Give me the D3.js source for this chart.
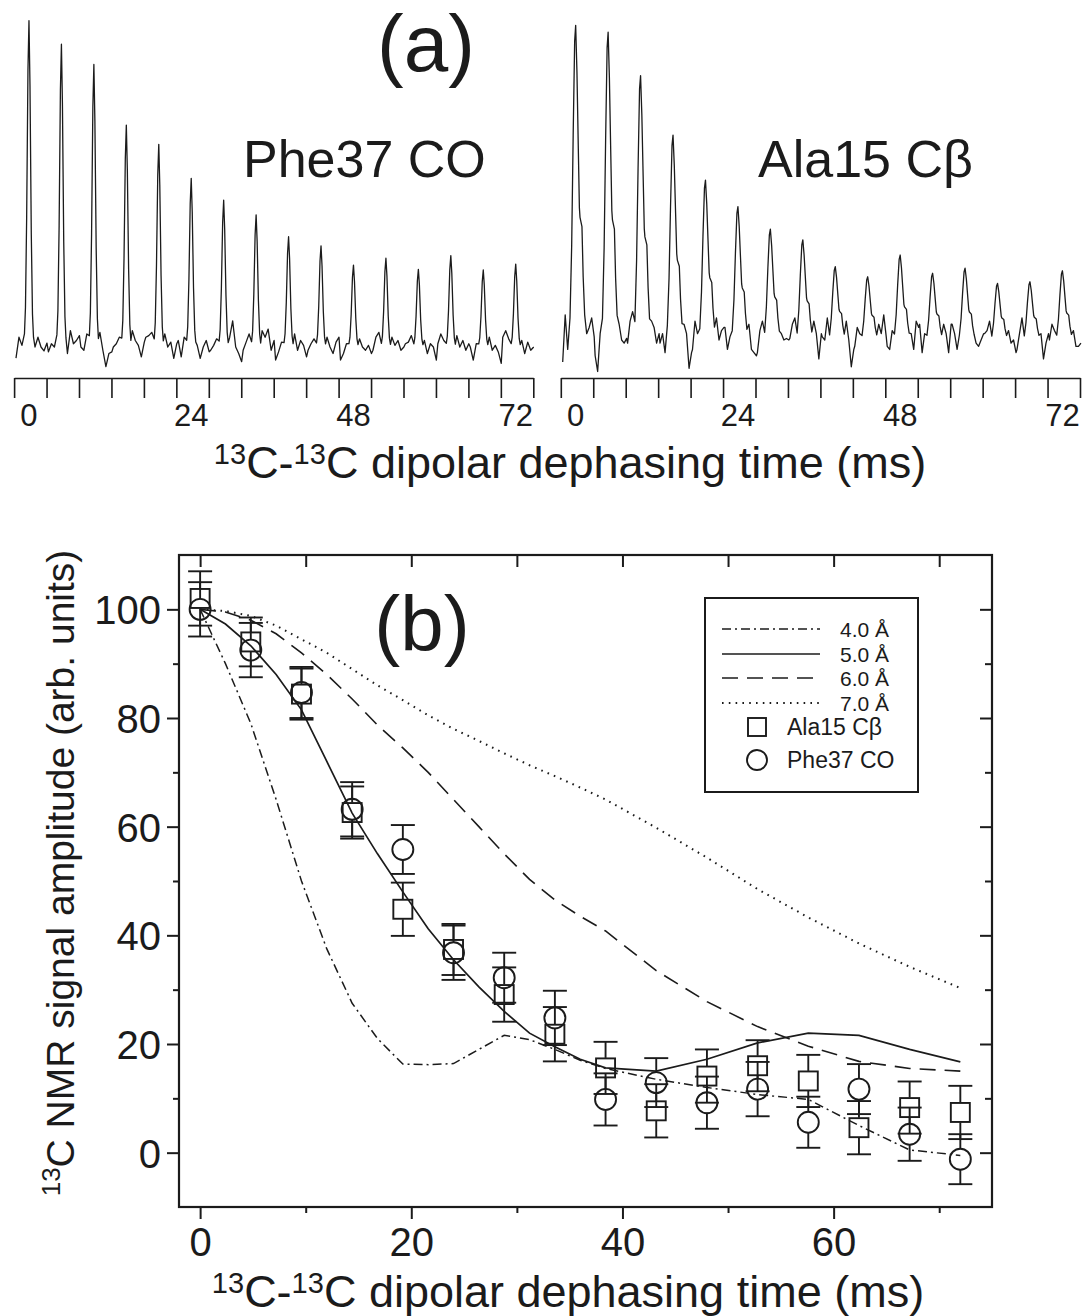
<!DOCTYPE html>
<html>
<head>
<meta charset="utf-8">
<script src="https://cdn.jsdelivr.net/npm/d3@7/dist/d3.min.js"></script>
<style>
  body { margin: 0; background: #fff; }
  svg text { font-family: "Liberation Sans", Arial, Helvetica, sans-serif; fill: #1b1b1b; }
</style>
</head>
<body>
<svg id="fig" width="1085" height="1316"></svg>
<script>
// dephasing times (ms), shared by the spectra and the data points
const dephasingTimes = [0, 4.8, 9.6, 14.4, 19.2, 24, 28.8, 33.6, 38.4, 43.2, 48, 52.8, 57.6, 62.4, 67.2, 72]
const specTickLabels = [0, 24, 48, 72]

// (a) peak heights, % of the first peak
const phePeaks = [100, 92.8, 86.6, 68, 62.1, 51.7, 45, 40.5, 33.8, 31, 25.1, 27.2, 23.8, 28, 23.6, 25.4]
const alaPeaks = [100, 97.8, 84, 65.1, 50.8, 42.4, 35.2, 31.8, 23.3, 20.1, 27, 21.2, 22.8, 18, 18.5, 22]

// baseline wiggles round each peak (% of first peak)
const pheNoise = [
  [-3.4, 3, 0.5, 0, 3, 0, -1.2, 1.2],
  [-1.5, 1, 0, -2, 5, 1, 2, 3.5],
  [0, -1, 4, 4.5, -1, -6, -2, -1.5],
  [0, 1, 3, 5, 2, 0.5, -3, 1.5],
  [3, 3.5, 4.5, 4, 0, 1.5, -3.5, 1],
  [2, -3, 3, 0.5, -3.5, 0, 2, -1.5],
  [-1, 0.5, 2.5, 3, 8, 0, -2, -4.5],
  [-1, 1.5, 4, 5, 3, 5.5, -1, 2],
  [-4, -1.5, 1.5, 4, -1, 2, 0.5, -3],
  [-1, 1, 2.5, 3, 0, -2, 1.5, 3],
  [-4, -2, 1, 2.5, 0, -1, 0.5, -2],
  [-1, 3, 4.5, 3, 0.5, 2, -1, 0],
  [1, 1.5, 3.5, 2, -2, 1, 0, -4],
  [1, 4, 2, 3.5, 0, 2, -1, 1],
  [0, -4, 1, 3, -1, 0.5, -1.5, -5],
  [3, 5, 2.5, 2, -2, 1.5, -1, 0]
]
const alaNoise = [
  [-7, 8, -3, 2, 4, 7, 1],
  [-5, -10, 2, 5, 0, -1, 0.5],
  [-1, 6, 9, 6, 4, -1, 2],
  [-1, 2, -4, 5, 2, -9, -4],
  [-3, 6, 2, 7, 0, 3, 4],
  [4, -3, 1, 5, -3, -4, -5],
  [-4, 3, 6, 2, 0, 0.5, 0],
  [0.5, 5, 7, 6, 2, -6, 2],
  [1, 0, 7, 6, 0, -8.5, -3],
  [-2, 4, 2, 5, 2, 8, 1],
  [-2, -3, 3, 2, -3, 6, 4],
  [5, -4, 2, 5, 2, -4, 5],
  [5, 2, -3, -1, -2, 0, 2],
  [2, 3, 6, 3, -1, 0, -4],
  [-3, 2, 7, 2, -6, -1, 2],
  [0, 5, 3, 3, -2, -2, -1]
]

// (b) simulated curves
const curveTimes = [0, 2.4, 4.8, 7.2, 9.6, 12, 14.4, 16.8, 19.2, 21.6, 24, 26.4, 28.8, 31.2, 33.6, 36, 38.4, 43.2, 48, 52.8, 57.6, 62.4, 67.2, 72]
const sim40 = [100, 90, 79, 65, 50, 37.5, 27.5, 21, 16.3, 16.2, 16.4, 19, 21.6, 20.8, 19, 17, 15.5, 13.5, 12, 10.7, 9.8, 5, 0.5, -0.5]
const sim50 = [100, 97.3, 93.3, 88, 81.5, 72, 62.5, 55, 48, 41.2, 35.5, 30.5, 26, 22, 19.5, 17.2, 15.6, 15, 17.2, 20.2, 22, 21.6, 19, 16.7]
const sim60 = [100, 99.5, 98, 95.5, 92, 88, 83.5, 78.7, 74.5, 70, 65, 60, 55, 50.3, 46.5, 43.5, 40.8, 33.5, 27.8, 23.2, 19.6, 16.8, 15.5, 15]
const sim70 = [100, 99.7, 98.8, 97, 94.5, 92, 89, 86, 83.3, 80.5, 78, 75.8, 73.5, 71.3, 69.3, 67.2, 65, 59.8, 54.3, 48.5, 43.3, 38.5, 34.2, 30.3]
const curveLabels = ['4.0 Å', '5.0 Å', '6.0 Å', '7.0 Å']

// (b) measured amplitudes
const alaValues = [102, 94, 84.4, 62.6, 44.8, 37.4, 29.1, 21.8, 15.6, 7.7, 14.1, 16, 13.2, 4.6, 8.3, 7.4]
const alaErrors = [5, 4.5, 4.7, 4.8, 4.9, 4.7, 5, 5, 4.8, 4.9, 4.9, 4.7, 4.8, 4.9, 4.8, 4.9]
const pheValues = [100, 92.5, 84.7, 63.2, 55.8, 36.8, 32.2, 24.8, 9.8, 12.9, 9.2, 11.7, 5.6, 11.7, 3.4, -1.2]
const pheErrors = [5, 5, 4.7, 5, 4.5, 5, 4.6, 5, 4.8, 4.5, 4.8, 5, 4.7, 4.6, 4.9, 4.6]

const INK = '#1b1b1b'
const svg = d3.select('#fig')

// text with superscript "13" parts
const richText = (sel, parts, supSize) => {
  parts.forEach(([s, sup]) => {
    sel.append('tspan')
      .attr('font-size', sup ? supSize : null)
      .attr('dy', sup ? -14 : (sel.selectAll('tspan').size() > 0 ? 14 : 0))
      .text(s)
  })
  return sel
}
const axisTitle = [['13', true], ['C-', false], ['13', true], ['C dipolar dephasing time (ms)', false]]

// ---------- (a) spectra ----------
const specPanels = [
  {
    name: 'Phe37 CO', peaks: phePeaks, noise: pheNoise, range: [14.1, 533.3], base: 347, top: 20.7, labelX: 243,
    noiseAt: [-1.92, -1.48, -1.04, 0.89, 1.33, 1.78, 2.22, 2.66],
    shape: [[-0.67, 0.04], [-0.52, 0.12], [-0.34, 0.4], [-0.15, 0.85], [0, 1], [0.15, 0.8], [0.34, 0.35], [0.52, 0.1], [0.67, 0.03]]
  },
  {
    name: 'Ala15 Cβ', peaks: alaPeaks, noise: alaNoise, range: [560.8, 1080], base: 340, top: 25.3, labelX: 758,
    noiseAt: [-1.92, -1.55, -1.18, 1.63, 2.0, 2.37, 2.74],
    shape: [[-0.84, 0.07], [-0.59, 0.3], [-0.37, 0.65], [-0.15, 0.95], [0, 1], [0.19, 0.85], [0.38, 0.62], [0.55, 0.42], [0.64, 0.39], [0.93, 0.36], [1.11, 0.2], [1.33, 0.08]]
  }
]

const segTicks = d3.range(dephasingTimes.length + 1).map(k => k * 4.8 - 2.2)

specPanels.forEach(p => {
  const x = d3.scaleLinear().domain([-2.2, 74.6]).range(p.range)
  const y = d3.scaleLinear().domain([0, 100]).range([p.base, p.top])

  const pts = []
  p.peaks.forEach((h, k) => {
    const t0 = dephasingTimes[k]
    p.noiseAt.forEach((dt, j) => pts.push([t0 + dt, p.noise[k][j]]))
    p.shape.forEach(([dt, f]) => pts.push([t0 + dt, f * h]))
  })
  pts.sort((a, b) => a[0] - b[0])

  svg.append('path')
    .attr('d', d3.line().x(d => x(d[0])).y(d => y(d[1]))(pts))
    .attr('fill', 'none')
    .attr('stroke', INK)
    .attr('stroke-width', 1.3)
    .attr('stroke-linejoin', 'round')

  const axis = svg.append('g')
    .attr('transform', 'translate(0,378)')
    .call(d3.axisBottom(x).tickValues(segTicks).tickSize(20).tickSizeOuter(0).tickFormat(''))
  axis.selectAll('path, line').attr('stroke', INK).attr('stroke-width', 1.6)

  svg.append('g')
    .selectAll('text')
    .data(specTickLabels)
    .join('text')
    .attr('x', d => x(d))
    .attr('y', 426)
    .attr('text-anchor', 'middle')
    .attr('font-size', 31)
    .text(d => d)

  svg.append('text')
    .attr('x', p.labelX)
    .attr('y', 177)
    .attr('font-size', 52)
    .text(p.name)
})

svg.append('text')
  .attr('x', 426).attr('y', 71)
  .attr('text-anchor', 'middle')
  .attr('font-size', 80)
  .text('(a)')

richText(svg.append('text').attr('x', 570).attr('y', 478).attr('text-anchor', 'middle').attr('font-size', 45), axisTitle, 29)

// ---------- (b) dephasing curves ----------
const frame = { left: 179, right: 992, top: 555, bottom: 1207 }
const x = d3.scaleLinear().domain([-2, 75]).range([frame.left, frame.right])
const y = d3.scaleLinear().domain([-10, 110]).range([frame.bottom, frame.top])

const styleAxis = g => {
  g.select('.domain').remove()
  g.selectAll('line').attr('stroke', INK).attr('stroke-width', 2)
  g.selectAll('text').attr('font-size', 40).attr('font-family', null).attr('fill', INK)
}

const majorX = [0, 20, 40, 60], minorX = [10, 30, 50, 70]
const majorY = [0, 20, 40, 60, 80, 100], minorY = [10, 30, 50, 70, 90]

svg.append('g').attr('transform', `translate(0,${frame.bottom})`)
  .call(d3.axisBottom(x).tickValues(majorX).tickSize(12).tickPadding(9))
  .call(styleAxis)
svg.append('g').attr('transform', `translate(0,${frame.bottom})`)
  .call(d3.axisBottom(x).tickValues(minorX).tickSize(6).tickFormat(''))
  .call(styleAxis)
svg.append('g').attr('transform', `translate(${frame.left},0)`)
  .call(d3.axisLeft(y).tickValues(majorY).tickSize(12).tickPadding(6))
  .call(styleAxis)
  .call(g => g.selectAll('text').attr('dy', '0.36em'))
svg.append('g').attr('transform', `translate(${frame.left},0)`)
  .call(d3.axisLeft(y).tickValues(minorY).tickSize(6).tickFormat(''))
  .call(styleAxis)
svg.append('g').attr('transform', `translate(0,${frame.top})`)
  .call(d3.axisBottom(x).tickValues(majorX.concat(minorX)).tickSize(12).tickFormat(''))
  .call(styleAxis)
svg.append('g').attr('transform', `translate(${frame.right},0)`)
  .call(d3.axisLeft(y).tickValues(majorY).tickSize(12).tickFormat(''))
  .call(styleAxis)
svg.append('g').attr('transform', `translate(${frame.right},0)`)
  .call(d3.axisLeft(y).tickValues(minorY).tickSize(7).tickFormat(''))
  .call(styleAxis)

svg.append('rect')
  .attr('x', frame.left).attr('y', frame.top)
  .attr('width', frame.right - frame.left).attr('height', frame.bottom - frame.top)
  .attr('fill', 'none').attr('stroke', INK).attr('stroke-width', 2.2)

const curves = [
  { values: sim40, dash: '9,4,2,4', width: 1.5 },
  { values: sim50, dash: null, width: 1.7 },
  { values: sim60, dash: '16,9', width: 1.6 },
  { values: sim70, dash: '1.6,5.2', width: 2 }
]
const curveLine = d3.line().x((d, i) => x(curveTimes[i])).y(d => y(d))

svg.append('g')
  .selectAll('path')
  .data(curves)
  .join('path')
  .attr('d', d => curveLine(d.values))
  .attr('fill', 'none')
  .attr('stroke', INK)
  .attr('stroke-width', d => d.width)
  .attr('stroke-dasharray', d => d.dash)

// error bars + markers
const CAP = 12, HALF = 10
const series = [
  { values: alaValues, errors: alaErrors, shape: 'square' },
  { values: pheValues, errors: pheErrors, shape: 'circle' }
]
series.forEach(s => {
  const g = svg.append('g').attr('stroke', INK).attr('stroke-width', 1.9).attr('fill', 'none')
  s.values.forEach((v, i) => {
    const cx = x(dephasingTimes[i]), cy = y(v)
    const hi = y(v + s.errors[i]), lo = y(v - s.errors[i])
    g.append('line').attr('x1', cx).attr('x2', cx).attr('y1', cy - HALF).attr('y2', hi)
    g.append('line').attr('x1', cx).attr('x2', cx).attr('y1', cy + HALF).attr('y2', lo)
    g.append('line').attr('x1', cx - CAP).attr('x2', cx + CAP).attr('y1', hi).attr('y2', hi)
    g.append('line').attr('x1', cx - CAP).attr('x2', cx + CAP).attr('y1', lo).attr('y2', lo)
    if (s.shape === 'square') {
      g.append('rect').attr('x', cx - 9.5).attr('y', cy - 9.5).attr('width', 19).attr('height', 19)
    } else {
      g.append('circle').attr('cx', cx).attr('cy', cy).attr('r', 10.5)
    }
  })
})

svg.append('text')
  .attr('x', 422).attr('y', 651)
  .attr('text-anchor', 'middle')
  .attr('font-size', 78)
  .text('(b)')

// legend
const legend = svg.append('g')
legend.append('rect')
  .attr('x', 705).attr('y', 598).attr('width', 213).attr('height', 194)
  .attr('fill', '#fff').attr('stroke', INK).attr('stroke-width', 2)
const rowY = [629, 654, 678, 703]
curves.forEach((c, i) => {
  legend.append('line')
    .attr('x1', 722).attr('x2', 820).attr('y1', rowY[i]).attr('y2', rowY[i])
    .attr('stroke', INK).attr('stroke-width', c.width).attr('stroke-dasharray', c.dash)
  legend.append('text')
    .attr('x', 840).attr('y', rowY[i] + 8)
    .attr('font-size', 21)
    .text(curveLabels[i])
})
legend.append('rect').attr('x', 748).attr('y', 718).attr('width', 18).attr('height', 18)
  .attr('fill', 'none').attr('stroke', INK).attr('stroke-width', 1.9)
legend.append('text').attr('x', 787).attr('y', 735).attr('font-size', 23).text('Ala15 Cβ')
legend.append('circle').attr('cx', 757).attr('cy', 760).attr('r', 10)
  .attr('fill', 'none').attr('stroke', INK).attr('stroke-width', 1.9)
legend.append('text').attr('x', 787).attr('y', 768).attr('font-size', 23).text('Phe37 CO')

// axis titles
richText(svg.append('text').attr('x', 568).attr('y', 1307).attr('text-anchor', 'middle').attr('font-size', 45), axisTitle, 29)
richText(
  svg.append('text').attr('transform', 'translate(74,873) rotate(-90)').attr('text-anchor', 'middle').attr('font-size', 39),
  [['13', true], ['C NMR signal amplitude (arb. units)', false]], 26
)
</script>
</body>
</html>
